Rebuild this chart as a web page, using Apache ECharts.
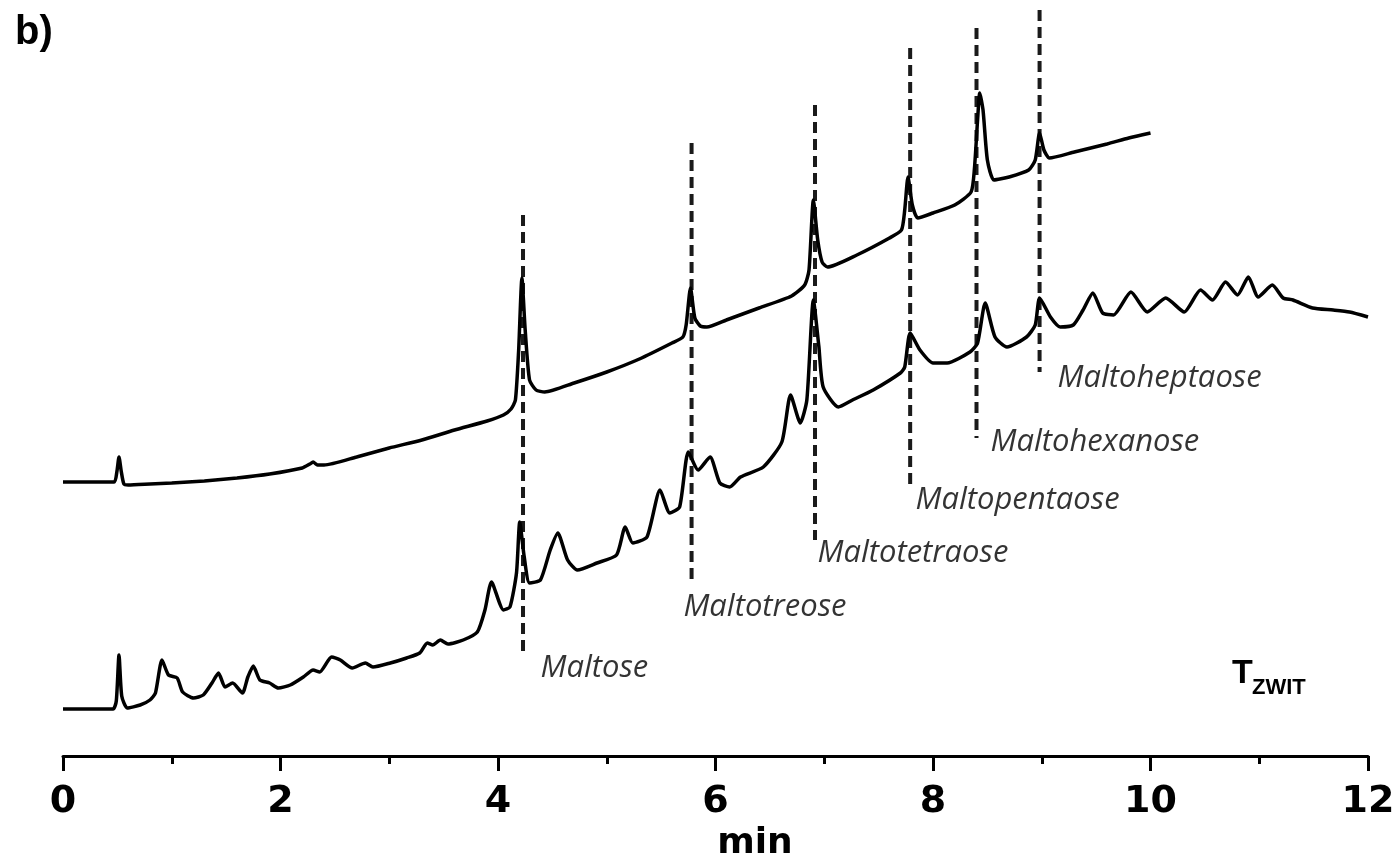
<!DOCTYPE html>
<html>
<head>
<meta charset="utf-8">
<script src="https://cdn.jsdelivr.net/npm/echarts@6/dist/echarts.min.js"></script>
<style>
html,body{margin:0;padding:0;background:#fff;}
#chart{width:1399px;height:862px;}
</style>
</head>
<body>
<div id="chart"></div>
<script>
// ---- Data (time in min, detector signal in arbitrary units) ----
const upperTime = [0,0.47,0.495,0.515,0.535,0.56,0.6,0.8,1.0,1.3,1.6,1.9,2.2,2.27,2.3,2.34,2.4,2.7,3.0,3.3,3.6,3.9,4.05,4.12,4.16,4.19,4.22,4.25,4.29,4.35,4.43,4.7,5.0,5.3,5.6,5.70,5.73,5.77,5.81,5.86,5.92,6.1,6.4,6.7,6.82,6.86,6.9,6.94,6.98,7.03,7.3,7.6,7.71,7.74,7.77,7.81,7.86,8.0,8.2,8.35,8.38,8.41,8.43,8.46,8.5,8.56,8.7,8.88,8.94,8.98,9.02,9.07,9.3,9.6,9.8,10.0];
const upperSignal = [274,274,284,299,285,272,271,272,273,275,278,282,288,292,294,291,291,299,308,316,326,335,341,347,356,406,478,426,376,366,364,373,384,397,413,419,431,468,438,430,429,436,448,460,471,486,556,516,494,489,501,518,526,546,579,551,538,543,551,564,586,636,663,646,596,576,579,586,596,623,606,598,604,612,618,623];

const lowerTime = [0,0.46,0.49,0.515,0.54,0.59,0.71,0.80,0.85,0.91,0.97,1.05,1.10,1.20,1.29,1.37,1.43,1.49,1.56,1.65,1.70,1.75,1.81,1.90,1.98,2.09,2.21,2.30,2.36,2.47,2.55,2.66,2.78,2.85,3.01,3.16,3.28,3.35,3.40,3.47,3.54,3.68,3.81,3.88,3.94,4.05,4.11,4.17,4.20,4.24,4.29,4.39,4.48,4.55,4.64,4.73,4.91,5.09,5.17,5.24,5.37,5.49,5.58,5.67,5.75,5.84,5.95,6.04,6.13,6.23,6.44,6.61,6.69,6.78,6.84,6.90,6.95,6.99,7.13,7.26,7.45,7.70,7.74,7.79,7.88,8.00,8.13,8.34,8.41,8.48,8.57,8.68,8.86,8.94,8.98,9.08,9.17,9.29,9.38,9.47,9.56,9.66,9.82,9.97,10.14,10.31,10.46,10.57,10.69,10.80,10.90,10.99,11.12,11.22,11.31,11.49,11.68,11.83,12.0];
const lowerSignal = [47,47,55,101,60,48,51,56,63,96,81,78,64,58,61,73,83,69,73,63,79,90,76,73,68,71,79,86,84,99,96,88,93,89,93,98,103,113,111,116,112,116,124,146,174,146,149,183,234,200,173,176,206,223,196,186,193,201,229,213,219,266,243,249,304,286,299,273,269,279,289,314,361,333,356,456,410,369,349,356,366,383,389,423,406,393,393,404,413,453,419,409,419,431,458,439,429,431,446,463,443,441,464,444,458,444,466,456,474,461,479,459,471,458,456,448,446,444,439];

// Peak markers (dashed guide lines) and their annotations
const peakNames  = ['Maltose','Maltotreose','Maltotetraose','Maltopentaose','Maltohexanose','Maltoheptaose'];
const peakTimes  = [4.23, 5.78, 6.915, 7.79, 8.40, 8.98];
const dashTop    = [541, 613, 651, 708, 728, 746];
const dashBottom = [99, 173, 216, 269, 318, 384];
const labelTime  = [4.386, 5.70, 6.933, 7.834, 8.524, 9.14];
const labelSignal= [88, 149, 203, 256, 314, 378];

const xMin = 0, xMax = 12, xInterval = 2;

// ---- Build chart ----
const chart = echarts.init(document.getElementById('chart'), null, {renderer:'canvas'});

const zip = (a, b) => a.map((v, i) => [v, b[i]]);

const series = [];
peakTimes.forEach((t, i) => {
  series.push({
    type: 'line', silent: true, symbol: 'none', z: 1,
    data: [[t, dashTop[i]], [t, dashBottom[i]]],
    lineStyle: {color: '#1a1a1a', width: 4, type: [11, 6]}
  });
});
series.push({
  type: 'line', name: 'upper', symbol: 'none', smooth: 0.2, z: 3,
  data: zip(upperTime, upperSignal),
  lineStyle: {color: '#000', width: 3.5}
});
series.push({
  type: 'line', name: 'lower', symbol: 'none', smooth: 0.2, z: 3,
  data: zip(lowerTime, lowerSignal),
  lineStyle: {color: '#000', width: 3.5}
});
series.push({
  type: 'scatter', silent: true, symbolSize: 1, z: 4,
  itemStyle: {color: 'rgba(0,0,0,0)'},
  data: peakNames.map((n, i) => ({name: n, value: [labelTime[i], labelSignal[i]]})),
  label: {
    show: true, position: 'right', distance: 0,
    formatter: p => p.name,
    fontFamily: '"Open Sans", "Noto Sans", sans-serif',
    fontStyle: 'italic', fontWeight: 500, fontSize: 31, color: '#000',
    align: 'left', verticalAlign: 'middle'
  },
  labelLayout: {hideOverlap: false}
});

chart.setOption({
  animation: false,
  backgroundColor: '#fff',
  grid: {left: 63, right: 31, top: 0, bottom: 106, containLabel: false},
  xAxis: {
    type: 'value', min: xMin, max: xMax, interval: xInterval,
    axisLine: {show: true, lineStyle: {color: '#000', width: 3}},
    axisTick: {show: true, length: 15, lineStyle: {color: '#000', width: 3}},
    minorTick: {show: true, splitNumber: 2, length: 8, lineStyle: {color: '#000', width: 3}},
    splitLine: {show: false},
    axisLabel: {
      margin: 27, color: '#000', fontSize: 38, fontWeight: 'bold', lineHeight: 38,
      fontFamily: '"DejaVu Sans", sans-serif'
    }
  },
  yAxis: {type: 'value', min: 0, max: 756, show: false},
  graphic: [
    {type: 'text', left: 15, top: 13, style: {text: 'b)', font: 'bold 40px "Liberation Sans", Arial, sans-serif', fill: '#000'}},
    {type: 'text', x: 755, y: 844, style: {text: 'min', font: 'bold 36px "DejaVu Sans", sans-serif', fill: '#000', textAlign: 'center', textVerticalAlign: 'middle'}},
    {type: 'text', x: 1232, y: 674, style: {text: 'T', font: 'bold 34px "Liberation Sans", Arial, sans-serif', fill: '#000', textAlign: 'left', textVerticalAlign: 'middle'}},
    {type: 'text', x: 1252, y: 688, style: {text: 'ZWIT', font: 'bold 22px "Liberation Sans", Arial, sans-serif', fill: '#000', textAlign: 'left', textVerticalAlign: 'middle'}}
  ],
  series: series
});
</script>
</body>
</html>
